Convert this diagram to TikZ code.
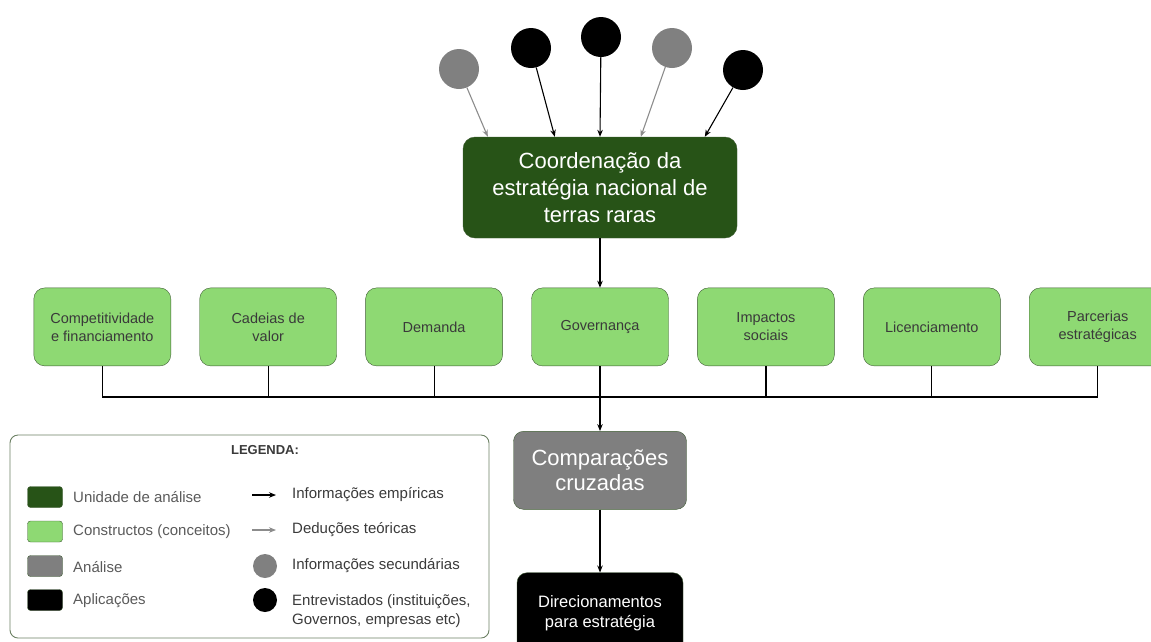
\documentclass[tikz,border=0pt]{standalone}
\usepackage{fontspec}
\setmainfont{Liberation Sans}
\usetikzlibrary{positioning, arrows.meta}
\definecolor{unitgreen}{HTML}{275317}
\definecolor{conceptgreen}{HTML}{8ED973}
\definecolor{edgegreen}{HTML}{3E5C33}
\definecolor{analysisgray}{HTML}{7F7F7F}
\definecolor{sourcegray}{HTML}{808080}
\definecolor{deducgray}{HTML}{8C8C8C}
\definecolor{textgray}{HTML}{3A3A3A}
\definecolor{labelgray}{HTML}{5A5A5A}
\definecolor{legendline}{HTML}{6B8063}

\begin{document}
\begin{tikzpicture}[x=1pt, y=-1pt,
     node distance = 49.5pt and 28.5pt,
       unitbox/.style = {rectangle, rounded corners=12pt, draw=edgegreen, fill=unitgreen, text=white,
                         minimum width=274pt, minimum height=101pt, align=center,
                         font=\fontsize{22}{27}\selectfont},
       conbox/.style = {rectangle, rounded corners=11pt, draw=edgegreen, fill=conceptgreen, text=textgray,
                         minimum width=137pt, minimum height=78pt, align=center,
                         font=\fontsize{14.5}{18}\selectfont},
       anbox/.style = {rectangle, rounded corners=10pt, draw=edgegreen, fill=analysisgray, text=white,
                         minimum width=173pt, minimum height=78pt, align=center,
                         font=\fontsize{22}{25}\selectfont},
       appbox/.style = {rectangle, rounded corners=10pt, draw=edgegreen, fill=black, text=white,
                         minimum width=166pt, minimum height=82pt, align=center,
                         font=\fontsize{16.5}{20}\selectfont},
       source/.style = {circle, minimum size=40pt, inner sep=0pt},
       swatch/.style = {rectangle, rounded corners=3pt, draw=edgegreen, minimum width=35pt, minimum height=21pt},
       leglabel/.style = {inner sep=0pt, anchor=west, font=\fontsize{15}{19}\selectfont},
       emp/.style = {-{Stealth[length=7pt,width=5.5pt]}, line width=1.1pt, black},
       ded/.style = {-{Stealth[length=7pt,width=5.5pt]}, line width=1.1pt, deducgray},
       link/.style = {line width=1.2pt, black}
                        ]
\useasboundingbox (0,0) rectangle (1151,641);
% unidade de analise e fontes
\node (unit) [unitbox] at (600,187.5) {Coordena\c{c}\~ao da\\estrat\'egia nacional de\\terras raras};
\node (s1) [source, fill=sourcegray] at (459,69) {};
\node (s2) [source, fill=black] at (531,48) {};
\node (s3) [source, fill=black] at (601,37) {};
\node (s4) [source, fill=sourcegray] at (672,48) {};
\node (s5) [source, fill=black] at (743,70) {};
\draw[ded] (s1) -- ([xshift=25pt]unit.north west);
\draw[emp] (s2) -- ([xshift=92pt]unit.north west);
\draw[emp] (s3) -- (unit.north);
\draw[ded] (s4) -- ([xshift=178pt]unit.north west);
\draw[emp] (s5) -- ([xshift=242pt]unit.north west);
% constructos
\node (gov) [conbox, below=of unit] {Governan\c{c}a};
\node (dem) [conbox, left=of gov] {Demanda};
\node (cad) [conbox, left=of dem] {Cadeias de\\valor};
\node (comp) [conbox, left=of cad] {Competitividade\\e financiamento};
\node (imp) [conbox, right=of gov] {Impactos\\sociais};
\node (lic) [conbox, right=of imp] {Licenciamento};
\node (parc) [conbox, right=of lic] {Parcerias\\estrat\'egicas};
\draw[emp] (unit) -- (gov);
\coordinate (bus) at (600,397);
\draw[link] (comp.south) -- (comp.south |- bus) -- (parc.south |- bus) -- (parc.south);
\foreach \n in {cad, dem, imp, lic}
  \draw[link] (\n.south) -- (\n.south |- bus);
% analise e aplicacao
\node (cross) [anbox, below=65pt of gov] {Compara\c{c}\~oes\\cruzadas};
\node (dir) [appbox, below=63pt of cross] {Direcionamentos\\para estrat\'egia};
\draw[emp] (gov) -- (cross);
\draw[emp] (cross) -- (dir);
% legenda
\node (legend) [rectangle, rounded corners=8pt, draw=legendline, line width=0.9pt,
                minimum width=479pt, minimum height=203pt] at (249.5,536.5) {};
\node (legtitle) [font=\bfseries\fontsize{13}{15}\selectfont, text=textgray] at (265,450) {LEGENDA:};
\node (k1) [swatch, fill=unitgreen] at (45,497) {};
\node (k2) [swatch, fill=conceptgreen] at (45,531.5) {};
\node (k3) [swatch, fill=analysisgray] at (45,566) {};
\node (k4) [swatch, fill=black] at (45,600) {};
\node (t1) [leglabel, text=labelgray] at (73,497) {Unidade de an\'alise};
\node (t2) [leglabel, text=labelgray] at (73,532) {Constructos (conceitos)};
\node (t3) [leglabel, text=labelgray] at (73,567) {An\'alise};
\node (t4) [leglabel, text=labelgray] at (73,601) {Aplica\c{c}\~oes};
\coordinate (e1a) at (252,495);
\coordinate (e1b) at (276,495);
\coordinate (e2a) at (252,530);
\coordinate (e2b) at (276,530);
\draw[emp] (e1a) -- (e1b);
\draw[ded] (e2a) -- (e2b);
\node (k7) [source, minimum size=24pt, fill=sourcegray] at (265,566) {};
\node (k8) [source, minimum size=24pt, fill=black] at (265,600) {};
\node (t5) [leglabel, text=textgray] at (292,495) {Informa\c{c}\~oes emp\'iricas};
\node (t6) [leglabel, text=textgray] at (292,530) {Dedu\c{c}\~oes te\'oricas};
\node (t7) [leglabel, text=textgray] at (292,566) {Informa\c{c}\~oes secund\'arias};
\node (t8) [leglabel, text=textgray, align=left] at (292,611) {Entrevistados (institui\c{c}\~oes,\\Governos, empresas etc)};
\end{tikzpicture}
\end{document}
